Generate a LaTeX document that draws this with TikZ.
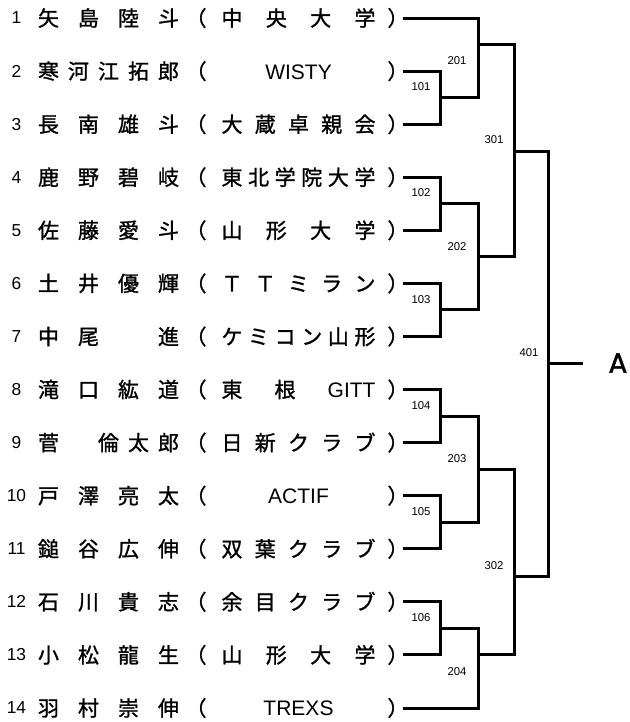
\documentclass[tikz,border=0pt]{standalone}
\usepackage{fontspec}
\setmainfont{Liberation Sans}
\newfontfamily\jp[FakeBold=1.2]{Noto Sans CJK JP}
\newfontfamily\afont[FakeBold=1.5]{Poppins}
\usetikzlibrary{positioning}
\tikzset{
    every picture/.style={
        x=0.75pt,y=-0.75pt,line width=2.25pt,
        seed/.style={inner sep=0pt,font=\fontsize{13}{13}\selectfont},
        player/.style={inner sep=0pt,anchor=west,font=\jp\fontsize{15.75}{16}\selectfont},
        club/.style={inner sep=0pt,anchor=west,font=\jp\fontsize{15.75}{16}\selectfont},
        match/.style={inner sep=0pt,font=\fontsize{8.5}{9}\selectfont},
        winner/.style={inner sep=0pt,font=\afont\fontsize{21}{21}\selectfont}
    }
}
\newcommand\pname[1]{\makebox[105.75pt]{#1}}
\newcommand\pclub[1]{（\hspace{11.25pt}\makebox[115.5pt]{#1}\hspace{9pt}）}
\newcommand\lat[1]{{\rmfamily #1}}

\begin{document}
\begin{tikzpicture}
    \useasboundingbox (0,0) rectangle (630,722);
    % players
    \node[seed]   (s1)  at (16.5,18)    {1};
    \node[player] (p1)  at (36.5,18)    {\pname{矢\hfill 島\hfill 陸\hfill 斗}};
    \node[club]   (c1)  at (184,18)     {\pclub{中\hfill 央\hfill 大\hfill 学}};
    \node[seed]   (s2)  at (16.5,71.1)  {2};
    \node[player] (p2)  at (36.5,71.1)  {\pname{寒\hfill 河\hfill 江\hfill 拓\hfill 郎}};
    \node[club]   (c2)  at (184,71.1)   {\pclub{\hfill\lat{WISTY}\hfill}};
    \node[seed]   (s3)  at (16.5,124.2) {3};
    \node[player] (p3)  at (36.5,124.2) {\pname{長\hfill 南\hfill 雄\hfill 斗}};
    \node[club]   (c3)  at (184,124.2)  {\pclub{大\hfill 蔵\hfill 卓\hfill 親\hfill 会}};
    \node[seed]   (s4)  at (16.5,177.2) {4};
    \node[player] (p4)  at (36.5,177.2) {\pname{鹿\hfill 野\hfill 碧\hfill 岐}};
    \node[club]   (c4)  at (184,177.2)  {\pclub{東\hfill 北\hfill 学\hfill 院\hfill 大\hfill 学}};
    \node[seed]   (s5)  at (16.5,230.3) {5};
    \node[player] (p5)  at (36.5,230.3) {\pname{佐\hfill 藤\hfill 愛\hfill 斗}};
    \node[club]   (c5)  at (184,230.3)  {\pclub{山\hfill 形\hfill 大\hfill 学}};
    \node[seed]   (s6)  at (16.5,283.4) {6};
    \node[player] (p6)  at (36.5,283.4) {\pname{土\hfill 井\hfill 優\hfill 輝}};
    \node[club]   (c6)  at (184,283.4)  {\pclub{Ｔ\hfill Ｔ\hfill ミ\hfill ラ\hfill ン}};
    \node[seed]   (s7)  at (16.5,336.5) {7};
    \node[player] (p7)  at (36.5,336.5) {\pname{中\hfill 尾\hfill 　\hfill 進}};
    \node[club]   (c7)  at (184,336.5)  {\pclub{ケ\hfill ミ\hfill コ\hfill ン\hfill 山\hfill 形}};
    \node[seed]   (s8)  at (16.5,389.5) {8};
    \node[player] (p8)  at (36.5,389.5) {\pname{滝\hfill 口\hfill 紘\hfill 道}};
    \node[club]   (c8)  at (184,389.5)  {\pclub{東\hfill 根\hfill\lat{GITT}}};
    \node[seed]   (s9)  at (16.5,442.6) {9};
    \node[player] (p9)  at (36.5,442.6) {\pname{菅\hfill 　\hfill 倫\hfill 太\hfill 郎}};
    \node[club]   (c9)  at (184,442.6)  {\pclub{日\hfill 新\hfill ク\hfill ラ\hfill ブ}};
    \node[seed]   (s10) at (16.5,495.7) {10};
    \node[player] (p10) at (36.5,495.7) {\pname{戸\hfill 澤\hfill 亮\hfill 太}};
    \node[club]   (c10) at (184,495.7)  {\pclub{\hfill\lat{ACTIF}\hfill}};
    \node[seed]   (s11) at (16.5,548.8) {11};
    \node[player] (p11) at (36.5,548.8) {\pname{鎚\hfill 谷\hfill 広\hfill 伸}};
    \node[club]   (c11) at (184,548.8)  {\pclub{双\hfill 葉\hfill ク\hfill ラ\hfill ブ}};
    \node[seed]   (s12) at (16.5,601.8) {12};
    \node[player] (p12) at (36.5,601.8) {\pname{石\hfill 川\hfill 貴\hfill 志}};
    \node[club]   (c12) at (184,601.8)  {\pclub{余\hfill 目\hfill ク\hfill ラ\hfill ブ}};
    \node[seed]   (s13) at (16.5,654.9) {13};
    \node[player] (p13) at (36.5,654.9) {\pname{小\hfill 松\hfill 龍\hfill 生}};
    \node[club]   (c13) at (184,654.9)  {\pclub{山\hfill 形\hfill 大\hfill 学}};
    \node[seed]   (s14) at (16.5,708)   {14};
    \node[player] (p14) at (36.5,708)   {\pname{羽\hfill 村\hfill 崇\hfill 伸}};
    \node[club]   (c14) at (184,708)    {\pclub{\hfill\lat{TREXS}\hfill}};
    % line ends
    \foreach \i in {1,...,14}
        \coordinate (e\i) at ([xshift=-5.25pt]c\i.east |- c\i.center);
    % match points
    \coordinate (m101) at (440,97.6);
    \coordinate (m102) at (440,203.8);
    \coordinate (m103) at (440,309.9);
    \coordinate (m104) at (440,416.1);
    \coordinate (m105) at (440,522.2);
    \coordinate (m106) at (440,628.4);
    \coordinate (m201) at (478,44);
    \coordinate (m202) at (478,256.9);
    \coordinate (m203) at (478,469.2);
    \coordinate (m204) at (478,654.9);
    \coordinate (m301) at (514,151);
    \coordinate (m302) at (514,576);
    \coordinate (m401) at (548,363);
    \coordinate (fin)  at (583,363);
    % bracket
    \draw (e2) -| (m101) |- (e3);
    \draw (e4) -| (m102) |- (e5);
    \draw (e6) -| (m103) |- (e7);
    \draw (e8) -| (m104) |- (e9);
    \draw (e10) -| (m105) |- (e11);
    \draw (e12) -| (m106) |- (e13);
    \draw (e1) -| (m201) |- (m101);
    \draw (m102) -| (m202) |- (m103);
    \draw (m104) -| (m203) |- (m105);
    \draw (m106) -| (m204) |- (e14);
    \draw (m201) -| (m301) |- (m202);
    \draw (m203) -| (m302) |- (m204);
    \draw (m301) -| (m401) |- (m302);
    \draw (m401) -- (fin);
    % match numbers
    \node[match] (l101) at (421,87)  {101};
    \node[match] (l102) at (421,193) {102};
    \node[match] (l103) at (421,300) {103};
    \node[match] (l104) at (421,406) {104};
    \node[match] (l105) at (421,512) {105};
    \node[match] (l106) at (421,618) {106};
    \node[match] (l201) at (457,61)  {201};
    \node[match] (l202) at (457,247) {202};
    \node[match] (l203) at (457,459) {203};
    \node[match] (l204) at (457,672) {204};
    \node[match] (l301) at (494,140) {301};
    \node[match] (l302) at (494,566) {302};
    \node[match] (l401) at (529,353) {401};
    \node[winner,right=18pt of fin] (win) {A};
\end{tikzpicture}
\end{document}
